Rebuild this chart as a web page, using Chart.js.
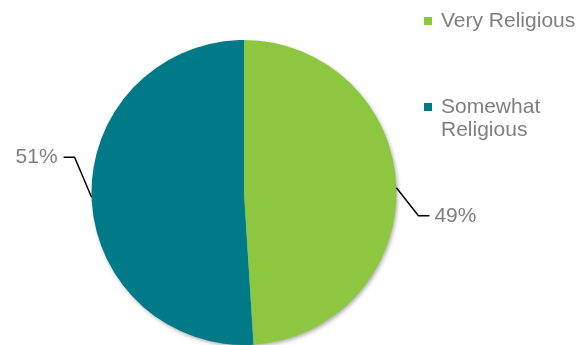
<!DOCTYPE html>
<html>
<head>
<meta charset="utf-8">
<script src="https://cdn.jsdelivr.net/npm/chart.js@4.4.1/dist/chart.umd.min.js"></script>
<style>
  html, body { margin: 0; padding: 0; background: #fff; }
  #wrap { width: 581px; height: 345px; }
</style>
</head>
<body>
<div id="wrap"><canvas id="religionChart" width="581" height="345"></canvas></div>
<script>
const categories = ['Very Religious', 'Somewhat Religious'];
const shares = [49, 51];
const sliceColors = ['#8DC63F', '#007A87'];

const TEXT_GRAY = '#7F7F7F';
const FONT = '21px "Liberation Sans", Arial, sans-serif';

// elbow leader line per slice: offset of the bend from the edge point, then horizontal run
const leaders = [
    { bend: [22, 28], run: 11 },
    { bend: [-17, -40], run: -11 }
];

// soft drop shadow behind the whole pie
const pieShadow = {
    id: 'pieShadow',
    beforeDatasetsDraw(chart) {
        const arc = chart.getDatasetMeta(0).data[0];
        if (!arc) return;
        const ctx = chart.ctx;
        ctx.save();
        ctx.shadowColor = 'rgba(0, 0, 0, 0.35)';
        ctx.shadowBlur = 4;
        ctx.shadowOffsetX = 1.5;
        ctx.shadowOffsetY = 2;
        ctx.fillStyle = '#ffffff';
        ctx.beginPath();
        ctx.arc(arc.x, arc.y, arc.outerRadius - 0.5, 0, Math.PI * 2);
        ctx.fill();
        ctx.restore();
    }
};

// percentage labels with black elbow leaders
const sliceLabels = {
    id: 'sliceLabels',
    afterDatasetsDraw(chart) {
        const ctx = chart.ctx;
        const meta = chart.getDatasetMeta(0);
        ctx.save();
        ctx.font = FONT;
        ctx.textBaseline = 'middle';
        meta.data.forEach((arc, i) => {
            const mid = (arc.startAngle + arc.endAngle) / 2;
            const x0 = arc.x + Math.cos(mid) * arc.outerRadius;
            const y0 = arc.y + Math.sin(mid) * arc.outerRadius;
            const lead = leaders[i];
            const x1 = x0 + lead.bend[0];
            const y1 = y0 + lead.bend[1];
            const x2 = x1 + lead.run;

            ctx.strokeStyle = '#000000';
            ctx.lineWidth = 1.5;
            ctx.beginPath();
            ctx.moveTo(x0, y0);
            ctx.lineTo(x1, y1);
            ctx.lineTo(x2, y1);
            ctx.stroke();

            ctx.fillStyle = TEXT_GRAY;
            const text = shares[i] + '%';
            if (lead.run > 0) {
                ctx.textAlign = 'left';
                ctx.fillText(text, x2 + 5, y1);
            } else {
                ctx.textAlign = 'right';
                ctx.fillText(text, x2 - 6, y1);
            }
        });
        ctx.restore();
    }
};

function wrapWords(ctx, text, maxWidth) {
    const words = text.split(' ');
    const lines = [];
    let line = '';
    words.forEach(w => {
        const test = line ? line + ' ' + w : w;
        if (line && ctx.measureText(test).width > maxWidth) {
            lines.push(line);
            line = w;
        } else {
            line = test;
        }
    });
    if (line) lines.push(line);
    return lines;
}

// legend on the right, one square marker per category
const sideLegend = {
    id: 'sideLegend',
    afterDraw(chart) {
        const ctx = chart.ctx;
        const left = 424;
        const rowTops = [17, 103];
        ctx.save();
        ctx.font = FONT;
        ctx.textAlign = 'left';
        ctx.textBaseline = 'alphabetic';
        categories.forEach((name, i) => {
            ctx.fillStyle = sliceColors[i];
            ctx.fillRect(left, rowTops[i], 8, 8);
            ctx.fillStyle = TEXT_GRAY;
            const lines = wrapWords(ctx, name, 145);
            lines.forEach((ln, k) => {
                ctx.fillText(ln, left + 17, rowTops[i] + 10 + k * 23);
            });
        });
        ctx.restore();
    }
};

new Chart(document.getElementById('religionChart'), {
    type: 'pie',
    data: {
        labels: categories,
        datasets: [{
            data: shares,
            backgroundColor: sliceColors,
            borderWidth: 0
        }]
    },
    options: {
        responsive: false,
        animation: false,
        events: [],
        layout: {
            padding: { left: 91, right: 184, top: 40, bottom: 0 }
        },
        plugins: {
            legend: { display: false },
            tooltip: { enabled: false }
        }
    },
    plugins: [pieShadow, sliceLabels, sideLegend]
});
</script>
</body>
</html>
